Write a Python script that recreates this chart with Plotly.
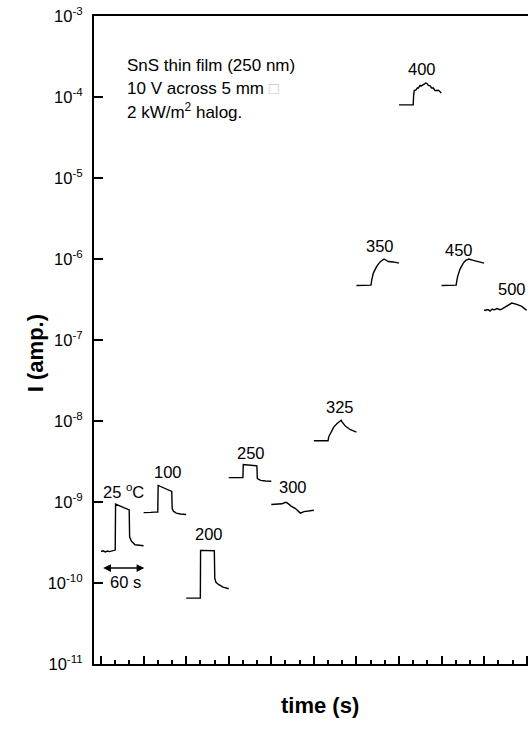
import math
import plotly.graph_objects as go

# Photocurrent transients of an SnS thin film (250 nm), one 60 s window per temperature.
temps = ["25", "100", "200", "250", "300", "325", "350", "400", "450", "500"]
seg_start = [0, 60, 120, 180, 240, 300, 360, 420, 480, 540]  # s

t_25 = [0, 3, 6, 9, 12, 15, 18, 20, 20.5, 26, 32, 38, 39.7, 40.3, 43, 48, 55, 60]
i_25 = [2.45e-10, 2.5e-10, 2.42e-10, 2.48e-10, 2.44e-10, 2.47e-10, 2.5e-10, 2.55e-10,
        9.4e-10, 8.9e-10, 8.5e-10, 8.1e-10, 8.0e-10, 3.7e-10, 3.27e-10, 2.97e-10,
        2.9e-10, 2.88e-10]

t_100 = [0, 5, 10, 15, 20, 20.5, 25, 30, 35, 39.7, 40.3, 42, 46, 52, 60]
i_100 = [7.4e-10, 7.5e-10, 7.45e-10, 7.5e-10, 7.5e-10, 1.6e-9, 1.53e-9, 1.47e-9,
         1.41e-9, 1.35e-9, 8.3e-10, 7.7e-10, 7.3e-10, 7.1e-10, 7.0e-10]

t_200 = [0, 10, 20, 20.3, 30, 39.7, 40.3, 42, 45.5, 52, 60]
i_200 = [6.5e-11, 6.5e-11, 6.5e-11, 2.53e-10, 2.53e-10, 2.5e-10, 1.15e-10, 1.02e-10,
         9.6e-11, 8.9e-11, 8.5e-11]

t_250 = [0, 10, 20, 20.5, 30, 39.7, 40.3, 45, 52, 60]
i_250 = [2.0e-9, 2.02e-9, 2.01e-9, 2.9e-9, 2.85e-9, 2.8e-9, 1.95e-9, 1.85e-9, 1.82e-9, 1.8e-9]

t_300 = [0, 8, 15, 20, 22, 28, 34, 41, 46, 60]
i_300 = [9.3e-10, 9.4e-10, 9.5e-10, 9.9e-10, 9.8e-10, 8.9e-10, 8.3e-10, 7.3e-10, 7.6e-10, 7.9e-10]

t_325 = [0, 10, 20, 21, 23.4, 28, 32.7, 36, 38.5, 40, 44.6, 51.6, 60]
i_325 = [5.7e-9, 5.7e-9, 5.7e-9, 6.4e-9, 7.1e-9, 8.4e-9, 9.3e-9, 9.8e-9, 1.02e-8,
         9.7e-9, 8.6e-9, 7.8e-9, 7.3e-9]

t_350 = [0, 10, 20.5, 21.5, 23.8, 28.6, 33.2, 38.9, 45, 52, 60]
i_350 = [4.7e-7, 4.7e-7, 4.75e-7, 5.5e-7, 6.7e-7, 8.1e-7, 9.2e-7, 1.0e-6, 9.3e-7, 9.2e-7, 8.9e-7]

t_400 = [0, 10, 20, 20.6, 21.5, 24, 25.8, 27.5, 29.6, 31.5, 34.3, 36, 38, 39.5, 41.3,
         43.5, 46, 48.5, 50.7, 53, 55.4, 57.5, 59.5]
i_400 = [8.0e-5, 8.0e-5, 8.0e-5, 1.05e-4, 1.2e-4, 1.22e-4, 1.29e-4, 1.29e-4, 1.39e-4,
         1.37e-4, 1.44e-4, 1.45e-4, 1.49e-4, 1.47e-4, 1.39e-4, 1.38e-4, 1.29e-4, 1.29e-4,
         1.2e-4, 1.21e-4, 1.21e-4, 1.17e-4, 1.12e-4]

t_450 = [0, 10, 20.5, 21.5, 22.7, 26, 30.6, 34, 38.5, 44.8, 51.8, 60]
i_450 = [4.7e-7, 4.7e-7, 4.75e-7, 5.4e-7, 6.1e-7, 7.5e-7, 8.9e-7, 9.6e-7, 1.0e-6,
         9.6e-7, 9.2e-7, 8.9e-7]

t_500 = [0, 1.2, 4, 5.9, 8.3, 11.5, 13.5, 15.3, 17.7, 22.4, 24.8, 31.8, 38.9, 46, 53, 58.6, 60]
i_500 = [2.35e-7, 2.32e-7, 2.36e-7, 2.37e-7, 2.28e-7, 2.41e-7, 2.36e-7, 2.37e-7, 2.45e-7,
         2.37e-7, 2.4e-7, 2.65e-7, 2.86e-7, 2.75e-7, 2.6e-7, 2.37e-7, 2.33e-7]

seg_t = [t_25, t_100, t_200, t_250, t_300, t_325, t_350, t_400, t_450, t_500]
seg_i = [i_25, i_100, i_200, i_250, i_300, i_325, i_350, i_400, i_450, i_500]

y_ticks = [1e-3, 1e-4, 1e-5, 1e-6, 1e-7, 1e-8, 1e-9, 1e-10, 1e-11]
y_ticktext = ["10<sup>-%d</sup>" % round(-math.log10(v)) for v in y_ticks]

scale_bar = 60  # s, length of the time scale arrow

FONT = "Liberation Sans, Arial, sans-serif"

fig = go.Figure()
for name, start, ts, cur in zip(temps, seg_start, seg_t, seg_i):
    fig.add_trace(go.Scatter(
        x=[start + t for t in ts], y=cur, mode="lines", name=name,
        line=dict(color="black", width=1.4), showlegend=False, hoverinfo="skip"))

# temperature labels: (shift in s from window centre, shift in px above the peak)
label_pos = {"25": (2, 13), "100": (4, 13), "200": (2, 16), "250": (2, 12),
             "300": (0, 15), "325": (7, 13.5), "350": (2.5, 13), "400": (2, 14),
             "450": (-6, 9.5), "500": (9, 14.5)}
annotations = []
for name, start, cur in zip(temps, seg_start, seg_i):
    dx, dy = label_pos[name]
    text = "25 <sup>o</sup>C" if name == "25" else name
    annotations.append(dict(
        x=start + 30 + dx, y=math.log10(max(cur)), xref="x", yref="y",
        text=text, showarrow=False, yanchor="middle", yshift=dy,
        font=dict(family=FONT, size=16.5, color="black")))

# 60 s scale arrow
arrow_y = math.log10(1.53e-10)
annotations.append(dict(
    x=1 + scale_bar, y=arrow_y, ax=1, ay=arrow_y, xref="x", yref="y",
    axref="x", ayref="y", text="", showarrow=True, arrowside="end+start",
    arrowhead=2, arrowsize=1.1, arrowwidth=1.4, arrowcolor="black",
    standoff=0, startstandoff=0))
annotations.append(dict(
    x=34.7, y=math.log10(1.02e-10), xref="x", yref="y", text="%d s" % scale_bar,
    showarrow=False, font=dict(family=FONT, size=16.5, color="black")))

# conditions box
info_lines = ["SnS thin film (250 nm)",
              "10 V across 5 mm <span style='color:#c8c8c8'>\u25a1</span>",
              "2 kW/m<sup>2</sup> halog."]
for k, line in enumerate(info_lines):
    annotations.append(dict(
        x=(124.5 - 94) / 434, y=(664.3 - (65.5 + 22.8 * k)) / 648,
        xref="paper", yref="paper", xanchor="left", yanchor="middle",
        text=line, showarrow=False, font=dict(family=FONT, size=17, color="black")))

# axis titles
annotations.append(dict(
    x=(319.7 - 94) / 434, y=(664.3 - 720) / 648, xref="paper", yref="paper",
    text="<b>time (s)</b>", showarrow=False,
    font=dict(family=FONT, size=22, color="black")))
annotations.append(dict(
    x=(21 - 94) / 434, y=(664.3 - 354) / 648, xref="paper", yref="paper",
    text="<b>I (amp.)</b>", showarrow=False, textangle=-90,
    font=dict(family=FONT, size=22, color="black")))

fig.update_layout(
    width=528, height=733,
    margin=dict(l=94, r=0, t=16, b=69),
    paper_bgcolor="white", plot_bgcolor="white",
    font=dict(family=FONT, size=16, color="black"),
    annotations=annotations,
    xaxis=dict(
        range=[-9.9, 601.8], showgrid=False, zeroline=False,
        showline=True, linecolor="black", linewidth=2, mirror=True,
        ticks="inside", tick0=0, dtick=60, ticklen=8, tickwidth=2, tickcolor="black",
        showticklabels=False,
        minor=dict(ticks="inside", dtick=20, ticklen=4, tickwidth=2, tickcolor="black")),
    yaxis=dict(
        type="log", range=[-11, -3], showgrid=False, zeroline=False,
        showline=True, linecolor="black", linewidth=2, mirror=False,
        ticks="inside", ticklen=9, tickwidth=2, tickcolor="black",
        tickvals=y_ticks, ticktext=y_ticktext, ticklabelstandoff=6,
        tickfont=dict(family=FONT, size=16.5, color="black")),
)

fig.write_html("out.html")
